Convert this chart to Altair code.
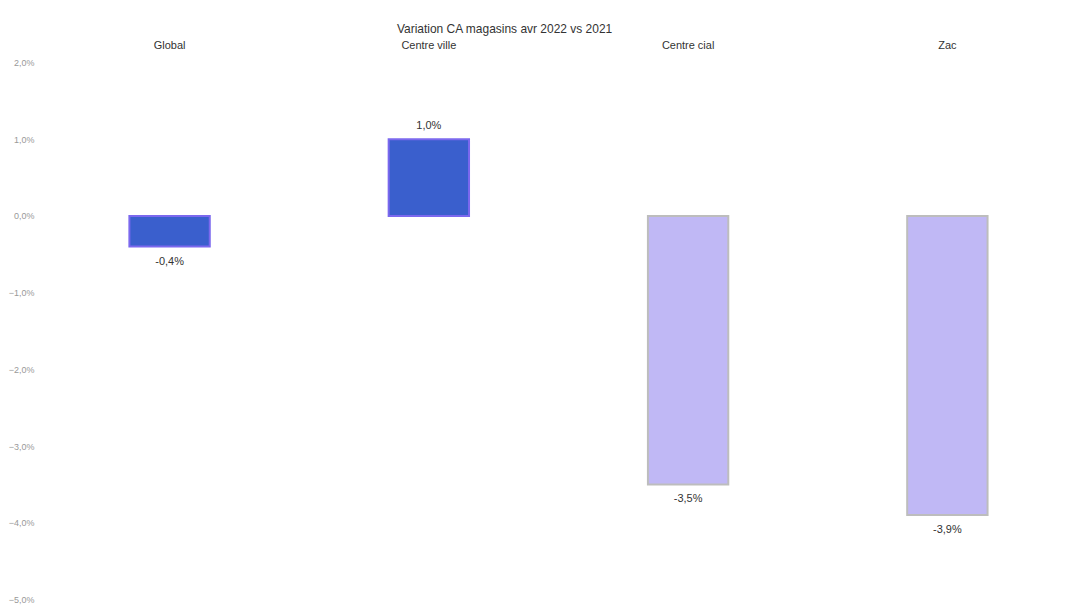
import altair as alt
import pandas as pd

categories = ["Global", "Centre ville", "Centre cial", "Zac"]
values = [-0.004, 0.010, -0.035, -0.039]
labels = ["-0,4%", "1,0%", "-3,5%", "-3,9%"]
groups = ["haut", "haut", "bas", "bas"]
y_ticks = [0.02, 0.01, 0.0, -0.01, -0.02, -0.03, -0.04, -0.05]

df = pd.DataFrame({"cat": categories, "val": values, "lbl": labels, "grp": groups})

x = alt.X("cat:N", sort=categories, title=None,
          scale=alt.Scale(paddingInner=0.69, paddingOuter=0.345),
          axis=alt.Axis(orient="top", ticks=False, domain=False, labelAngle=0,
                        labelPadding=12, labelFontSize=11, labelColor="#333"))
y = alt.Y("val:Q", title=None,
          scale=alt.Scale(domain=[-0.05, 0.02], nice=False),
          axis=alt.Axis(values=y_ticks, grid=False, domain=False, ticks=False,
                        labelExpr="replace(format(datum.value, '.1%'), '.', ',')",
                        labelColor="#999", labelFontSize=9, labelPadding=6))

bars = alt.Chart(df).mark_bar(strokeWidth=2).encode(
    x=x, y=y, y2=alt.datum(0),
    color=alt.Color("grp:N", legend=None,
                    scale=alt.Scale(domain=["haut", "bas"], range=["#3a5fcd", "#c0b8f5"])),
    stroke=alt.Stroke("grp:N", legend=None,
                      scale=alt.Scale(domain=["haut", "bas"], range=["#7b68ee", "#bdbdbd"])),
)

text_pos = alt.Chart(df).transform_filter("datum.val > 0").mark_text(
    dy=-13, fontSize=11, color="#333").encode(x=x, y=y, text="lbl:N")
text_neg = alt.Chart(df).transform_filter("datum.val <= 0").mark_text(
    dy=15, fontSize=11, color="#333").encode(x=x, y=y, text="lbl:N")

chart = alt.layer(bars, text_pos, text_neg).properties(
    width=1039, height=538,
    padding={"left": 0, "top": 14, "right": 5, "bottom": 5},
    title=alt.TitleParams("Variation CA magasins  avr 2022  vs 2021", fontSize=12,
                          fontWeight="normal", color="#333", anchor="middle", dx=-54, offset=4),
).configure(font="Liberation Sans").configure_view(stroke=None)

chart.save("out.html", embed_options={"renderer": "svg", "actions": False})
